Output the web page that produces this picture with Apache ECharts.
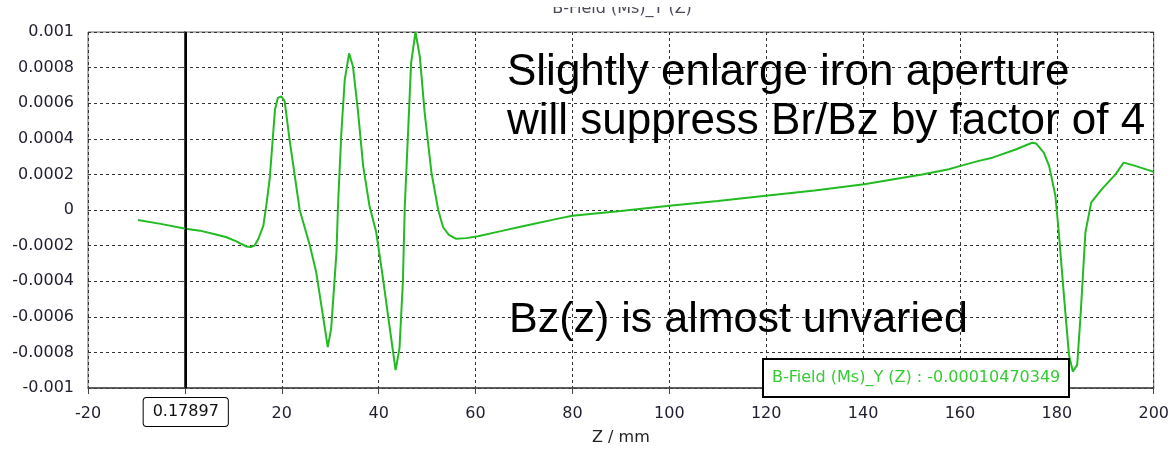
<!DOCTYPE html>
<html>
<head>
<meta charset="utf-8">
<script src="https://cdn.jsdelivr.net/npm/echarts@6/dist/echarts.min.js"></script>
<style>
html,body{margin:0;padding:0;background:#fff;}
#chart{width:1172px;height:451px;}
</style>
</head>
<body>
<div id="chart"></div>
<script>
// ---- data ----
const chartTitle = 'B-Field (Ms)_Y (Z)';
const xAxisName = 'Z / mm';
const cursorZ = 0.17897;
const cursorReadout = 'B-Field (Ms)_Y (Z) : -0.00010470349';
const noteLine1 = 'Slightly enlarge iron aperture';
const noteLine2 = 'will suppress Br/Bz by factor of 4';
const noteLine3 = 'Bz(z) is almost unvaried';

const zVals = [-9.7, -5, 0.18, 3.1, 6, 8.6, 10.5, 12.7, 13.6, 14.4, 15.2, 16.2, 16.8, 17.5, 18.6, 19.2, 19.9, 20.6, 21.6, 23.7, 25.8, 27.1, 29.5, 30.2, 31.3, 31.6, 32.3, 33.0, 33.9, 34.7, 35.7, 36.8, 38.1, 39.5, 40.9, 42.3, 43.5, 44.3, 45.0, 45.4, 46.1, 46.7, 47.6, 48.5, 49.5, 50.9, 52.3, 53.3, 54.5, 56.0, 58.1, 60.5, 65, 70, 77.3, 80, 90, 100, 110, 119.9, 130, 140.2, 152.2, 157.7, 160.1, 163.9, 166.7, 171.5, 174.9, 175.7, 177.3, 178.4, 179.7, 180.4, 181.4, 182.5, 183.3, 184.2, 184.9, 185.9, 187.1, 189.3, 192.1, 193.8, 196.2, 200];
const bVals = [-0.000056, -0.000078, -0.000105, -0.000116, -0.000135, -0.000153, -0.000175, -0.000205, -0.000208, -0.000200, -0.00016, -0.000088, 0.000024, 0.000173, 0.000564, 0.00063, 0.000638, 0.00061, 0.000397, 0.0, -0.0002, -0.000348, -0.00077, -0.000665, -0.000235, 0.00002, 0.000434, 0.000732, 0.00088, 0.000806, 0.000564, 0.000248, 0.000024, -0.000125, -0.000386, -0.000665, -0.0009, -0.000777, -0.000404, 0.000024, 0.000453, 0.000825, 0.001, 0.000862, 0.000546, 0.00021, 0.0, -0.000097, -0.00014, -0.000162, -0.000158, -0.000147, -0.00012, -0.00009, -0.000047, -0.000032, -0.000005, 0.000024, 0.00005, 0.00008, 0.00011, 0.000145, 0.0002, 0.000229, 0.000248, 0.000276, 0.000294, 0.00034, 0.000378, 0.000374, 0.000322, 0.000248, 0.00008, -0.000125, -0.00046, -0.000814, -0.000907, -0.00087, -0.00059, -0.000125, 0.000043, 0.000117, 0.0002, 0.000266, 0.000248, 0.000214];

const xMin = -20, xMax = 200, xStep = 20;
const yMin = -0.001, yMax = 0.001, yStep = 0.0002;

// ---- chart ----
const seriesData = zVals.map((z, i) => [z, bVals[i]]);
const axisFont = 'DejaVu Sans';
const chart = echarts.init(document.getElementById('chart'), null, {renderer: 'canvas'});
chart.setOption({
  animation: false,
  backgroundColor: '#fff',
  title: [
    {
      text: chartTitle, left: 622, top: 1, textAlign: 'center', padding: 0,
      textStyle: {fontFamily: axisFont, fontSize: 16, fontWeight: 'normal', color: '#4a4a5a'}
    },
    {
      text: cursorReadout, left: 763, top: 359, padding: [11, 9, 11, 9],
      borderColor: '#000', borderWidth: 2, backgroundColor: '#fff', z: 20,
      textStyle: {fontFamily: axisFont, fontSize: 16, fontWeight: 'normal', color: '#33cc33'}
    }
  ],
  tooltip: {show: false},
  axisPointer: {triggerOn: 'none'},
  grid: {left: 88, right: 16, top: 32, bottom: 61, show: true, borderColor: '#666', borderWidth: 1, containLabel: false},
  xAxis: {
    type: 'value', min: xMin, max: xMax, interval: xStep,
    name: xAxisName, nameLocation: 'middle', nameGap: 42,
    nameTextStyle: {fontFamily: axisFont, fontSize: 16, color: '#222'},
    axisLine: {onZero: false, lineStyle: {color: '#444', width: 1.5}},
    axisTick: {show: true, length: 6, lineStyle: {color: '#444'}},
    axisLabel: {fontFamily: axisFont, fontSize: 16, color: '#1e1e2e', margin: 18},
    splitLine: {show: true, lineStyle: {color: '#333', type: [3, 3], width: 1}},
    axisPointer: {
      show: true, value: cursorZ, status: 'show', snap: false, triggerTooltip: false,
      lineStyle: {color: '#000', width: 2, type: 'solid'},
      label: {
        show: true, formatter: p => Number(p.value).toFixed(5),
        backgroundColor: '#fff', borderColor: '#000', borderWidth: 1,
        color: '#111', fontFamily: axisFont, fontSize: 16, padding: [6, 9], margin: 10
      }
    }
  },
  yAxis: {
    type: 'value', min: yMin, max: yMax, interval: yStep,
    axisLine: {show: true, lineStyle: {color: '#000', width: 1.5}},
    axisTick: {show: true, length: 6, lineStyle: {color: '#444'}},
    axisLabel: {fontFamily: axisFont, fontSize: 16, color: '#1e1e2e', margin: 14,
      formatter: v => String(+(+v).toFixed(4))},
    splitLine: {show: true, lineStyle: {color: '#333', type: [3, 3], width: 1}}
  },
  series: [{
    type: 'line', data: seriesData, showSymbol: false, smooth: false,
    lineStyle: {color: '#22bb22', width: 2}, itemStyle: {color: '#22bb22'}, z: 3
  }],
  graphic: [
    {type: 'rect', left: 0, top: 0, shape: {width: 1172, height: 7}, style: {fill: '#fff'}, z: 100},
    {type: 'text', left: 507, top: 51, z: 50, style: {text: noteLine1, font: '44px "Liberation Sans"', fill: '#000'}},
    {type: 'text', left: 507, top: 100, z: 50, style: {text: noteLine2, font: '44px "Liberation Sans"', fill: '#000'}},
    {type: 'text', left: 509, top: 299, z: 50, style: {text: noteLine3, font: '43px "Liberation Sans"', fill: '#000'}}
  ]
});
</script>
</body>
</html>
